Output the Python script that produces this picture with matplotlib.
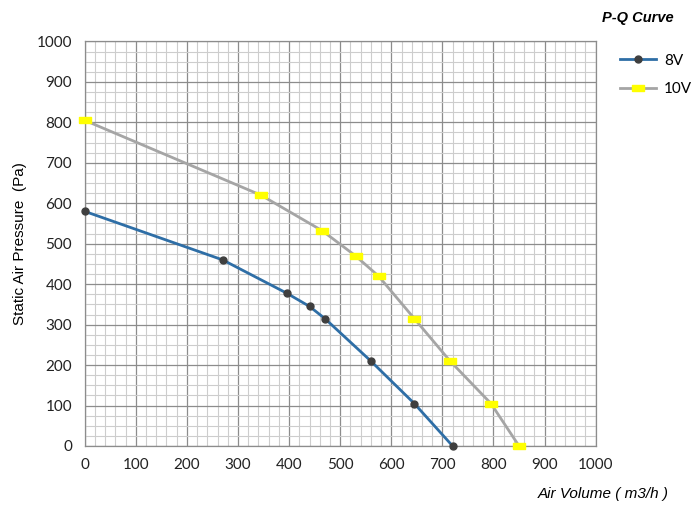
import matplotlib
matplotlib.use("Agg")
import matplotlib.pyplot as plt
import numpy as np
from matplotlib.ticker import MultipleLocator

# P-Q curve data
flow_8v = [0, 270, 395, 440, 470, 560, 645, 720]
pressure_8v = [580, 460, 378, 345, 315, 210, 105, 0]

flow_10v = [0, 345, 465, 530, 575, 645, 715, 795, 850]
pressure_10v = [805, 620, 532, 470, 420, 315, 210, 105, 0]

x_ticks = list(range(0, 1001, 100))
y_ticks = list(range(0, 1001, 100))

# wide yellow rectangle marker like the Excel one
rect_marker = [(-1, -0.55), (1, -0.55), (1, 0.55), (-1, 0.55), (-1, -0.55)]

fig = plt.figure(figsize=(7, 5.18), dpi=100)
ax = fig.add_axes([0.121, 0.139, 0.730, 0.781])

ax.plot(flow_8v, pressure_8v, color='#2e6ea6', linewidth=2.0,
        marker='o', markersize=5, markerfacecolor='#3f3f3f',
        markeredgecolor='#3f3f3f', label='8V', zorder=3, clip_on=False)
ax.plot(flow_10v, pressure_10v, color='#a5a5a5', linewidth=2.0,
        marker=rect_marker, markersize=9, markerfacecolor='#ffff00',
        markeredgecolor='#ffff00', label='10V', zorder=3, clip_on=False)

ax.set_xlim(0, 1000)
ax.set_ylim(0, 1000)
ax.set_xticks(x_ticks)
ax.set_yticks(y_ticks)
ax.xaxis.set_minor_locator(MultipleLocator(20))
ax.yaxis.set_minor_locator(MultipleLocator(25))
ax.grid(which='major', color='#8c8c8c', linewidth=0.9, zorder=0)
ax.grid(which='minor', color='#cdcdcd', linewidth=0.8, zorder=0)
ax.set_axisbelow(True)
ax.tick_params(which='both', length=0)
ax.tick_params(axis='x', pad=9)
ax.tick_params(axis='y', pad=9)
for lab in ax.get_xticklabels() + ax.get_yticklabels():
    lab.set_fontfamily('Lato')
    lab.set_fontsize(11)
    lab.set_color('#222222')
for side in ax.spines.values():
    side.set_color('#8c8c8c')
    side.set_linewidth(0.9)

fig.text(0.028, 0.53, 'Static Air Pressure  (Pa)', rotation=90,
         ha='center', va='center', fontsize=11, family='Liberation Sans')
fig.text(0.955, 0.046, 'Air Volume ( m3/h )', ha='right', va='center',
         fontsize=11, style='italic', family='Liberation Sans')
fig.text(0.962, 0.966, 'P-Q Curve', ha='right', va='center',
         fontsize=10.5, style='italic', weight='bold', family='Liberation Sans')

leg = ax.legend(loc='upper left', bbox_to_anchor=(1.035, 0.985), frameon=False,
                handlelength=2.4, handletextpad=0.5, labelspacing=0.95,
                borderaxespad=0, prop={'family': 'Lato', 'size': 11})

fig.savefig('out.png', dpi=100)
